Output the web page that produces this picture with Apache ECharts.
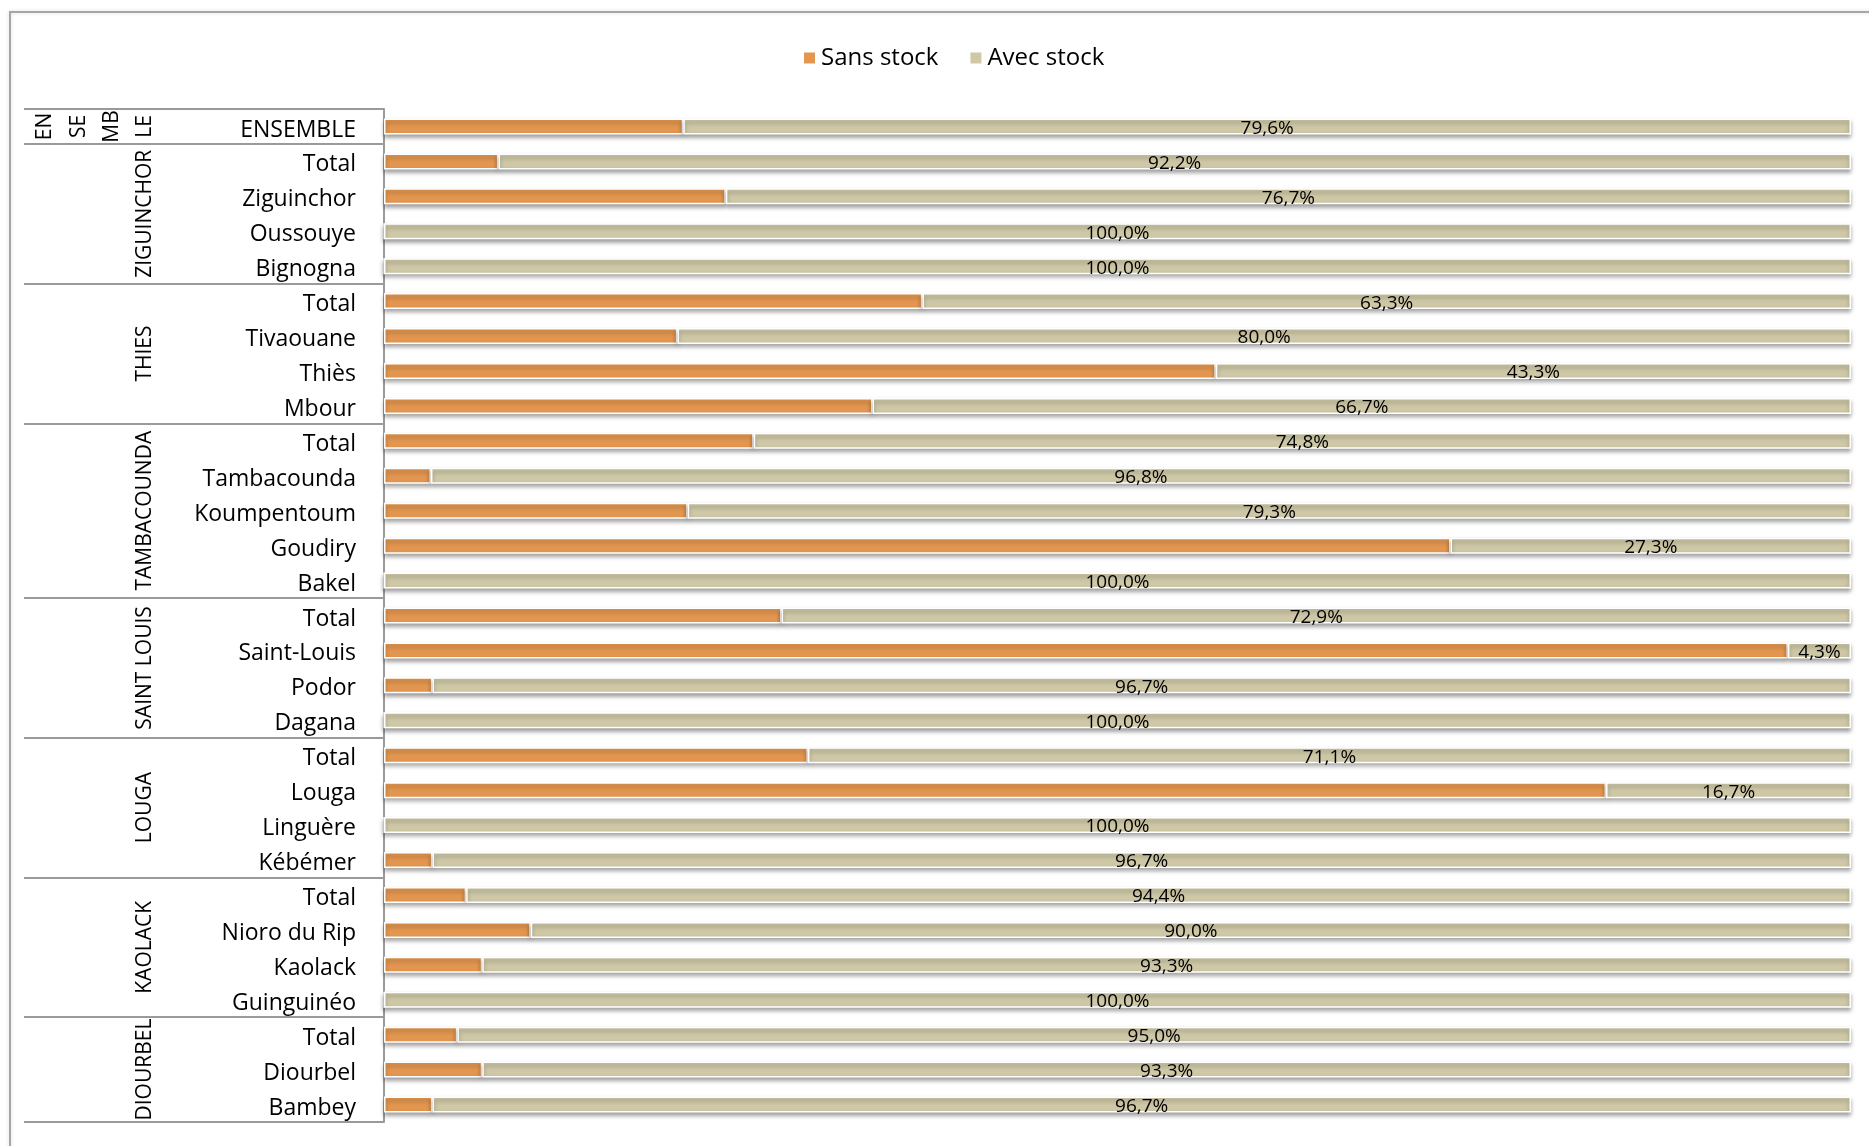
<!DOCTYPE html>
<html>
<head>
<meta charset="utf-8">
<script src="https://cdn.jsdelivr.net/npm/echarts@6/dist/echarts.min.js"></script>
<style>
  html, body { margin: 0; padding: 0; background: #ffffff; }
  #chart { width: 1869px; height: 1146px; }
</style>
</head>
<body>
<div id="chart"></div>
<script>
// Rows, top to bottom
const categories = [
  'ENSEMBLE',
  'Total', 'Ziguinchor', 'Oussouye', 'Bignogna',
  'Total', 'Tivaouane', 'Thiès', 'Mbour',
  'Total', 'Tambacounda', 'Koumpentoum', 'Goudiry', 'Bakel',
  'Total', 'Saint-Louis', 'Podor', 'Dagana',
  'Total', 'Louga', 'Linguère', 'Kébémer',
  'Total', 'Nioro du Rip', 'Kaolack', 'Guinguinéo',
  'Total', 'Diourbel', 'Bambey'
];

// Share of units without stock (%)
const sansStock = [
  20.4,
  7.8, 23.3, 0, 0,
  36.7, 20.0, 56.7, 33.3,
  25.2, 3.2, 20.7, 72.7, 0,
  27.1, 95.7, 3.3, 0,
  28.9, 83.3, 0, 3.3,
  5.6, 10.0, 6.7, 0,
  5.0, 6.7, 3.3
];

// Share of units with stock (%)
const avecStock = [
  79.6,
  92.2, 76.7, 100.0, 100.0,
  63.3, 80.0, 43.3, 66.7,
  74.8, 96.8, 79.3, 27.3, 100.0,
  72.9, 4.3, 96.7, 100.0,
  71.1, 16.7, 100.0, 96.7,
  94.4, 90.0, 93.3, 100.0,
  95.0, 93.3, 96.7
];

// Region groups (row index range) for the second label level
const regions = [
  { name: 'ZIGUINCHOR', from: 1, to: 4 },
  { name: 'THIES', from: 5, to: 8 },
  { name: 'TAMBACOUNDA', from: 9, to: 13 },
  { name: 'SAINT LOUIS', from: 14, to: 17 },
  { name: 'LOUGA', from: 18, to: 21 },
  { name: 'KAOLACK', from: 22, to: 25 },
  { name: 'DIOURBEL', from: 26, to: 28 }
];
const ensembleParts = ['EN', 'SE', 'MB', 'LE'];

const seriesNames = ['Sans stock', 'Avec stock'];
const colors = ['#E3964F', '#CEC8A7'];

const FONT = '"Open Sans", Lato, sans-serif';
const GRID_LEFT = 384;
const TABLE_LEFT = 24;

const groupStarts = new Set([0].concat(regions.map(r => r.from)));

const fmt = v => v.toFixed(1).replace('.', ',') + '%';

const barItemStyle = color => ({
  color: color,
  borderColor: '#ffffff',
  borderWidth: 1.5,
  shadowColor: 'rgba(0,0,0,0.35)',
  shadowBlur: 4,
  shadowOffsetY: 3
});

const chart = echarts.init(document.getElementById('chart'), null, { renderer: 'canvas' });

chart.setOption({
  animation: false,
  backgroundColor: '#ffffff',
  color: colors,
  legend: {
    data: seriesNames,
    left: 797,
    top: 41,
    icon: 'rect',
    itemWidth: 13,
    itemHeight: 13,
    itemGap: 30,
    textStyle: { fontFamily: FONT, fontSize: 24, color: '#000000' }
  },
  grid: { left: GRID_LEFT, right: 18, top: 109, bottom: 24, containLabel: false },
  xAxis: {
    type: 'value',
    min: 0,
    max: 100,
    show: false
  },
  yAxis: {
    type: 'category',
    inverse: true,
    data: categories,
    axisLine: { show: true, lineStyle: { color: '#9a9a9a', width: 2 } },
    axisTick: {
      show: true,
      inside: false,
      length: GRID_LEFT - TABLE_LEFT,
      interval: (index) => groupStarts.has(index),
      lineStyle: { color: '#9a9a9a', width: 2 }
    },
    axisLabel: {
      interval: 0,
      margin: 28,
      fontFamily: FONT,
      fontSize: 23,
      color: '#000000',
      formatter: v => '{c|' + v + '}',
      rich: {
        c: { fontFamily: FONT, fontSize: 23, color: '#000000', padding: [7, 0, 0, 0] }
      }
    },
    splitLine: { show: false }
  },
  series: [
    {
      name: seriesNames[0],
      type: 'bar',
      stack: 'share',
      barWidth: 16,
      data: sansStock,
      itemStyle: barItemStyle(colors[0])
    },
    {
      name: seriesNames[1],
      type: 'bar',
      stack: 'share',
      barWidth: 16,
      data: avecStock,
      itemStyle: barItemStyle(colors[1]),
      label: {
        show: true,
        position: 'inside',
        offset: [0, 2],
        fontFamily: FONT,
        fontSize: 19,
        color: '#000000',
        formatter: p => fmt(p.value)
      }
    }
  ]
});

// Second label level and outer frame, placed from the category axis scale
const yPix = i => chart.convertToPixel({ yAxisIndex: 0 }, i);
const labelStyle = text => ({
  text: text,
  font: '21px ' + FONT,
  fill: '#000000',
  align: 'center',
  verticalAlign: 'middle'
});

const graphics = [
  {
    type: 'rect',
    silent: true,
    z: -1,
    shape: { x: 10, y: 12, width: 1900, height: 1200 },
    style: { fill: 'none', stroke: '#a6a6a6', lineWidth: 2, shadowColor: 'rgba(0,0,0,0.15)', shadowBlur: 4 }
  }
];

const ensembleX = [45, 79, 112, 145];
ensembleParts.forEach((t, k) => {
  graphics.push({
    type: 'text',
    silent: true,
    x: ensembleX[k],
    y: yPix(0),
    rotation: Math.PI / 2,
    style: labelStyle(t)
  });
});

regions.forEach(r => {
  graphics.push({
    type: 'text',
    silent: true,
    x: 145,
    y: (yPix(r.from) + yPix(r.to)) / 2,
    rotation: Math.PI / 2,
    style: labelStyle(r.name)
  });
});

chart.setOption({ graphic: graphics });
</script>
</body>
</html>
